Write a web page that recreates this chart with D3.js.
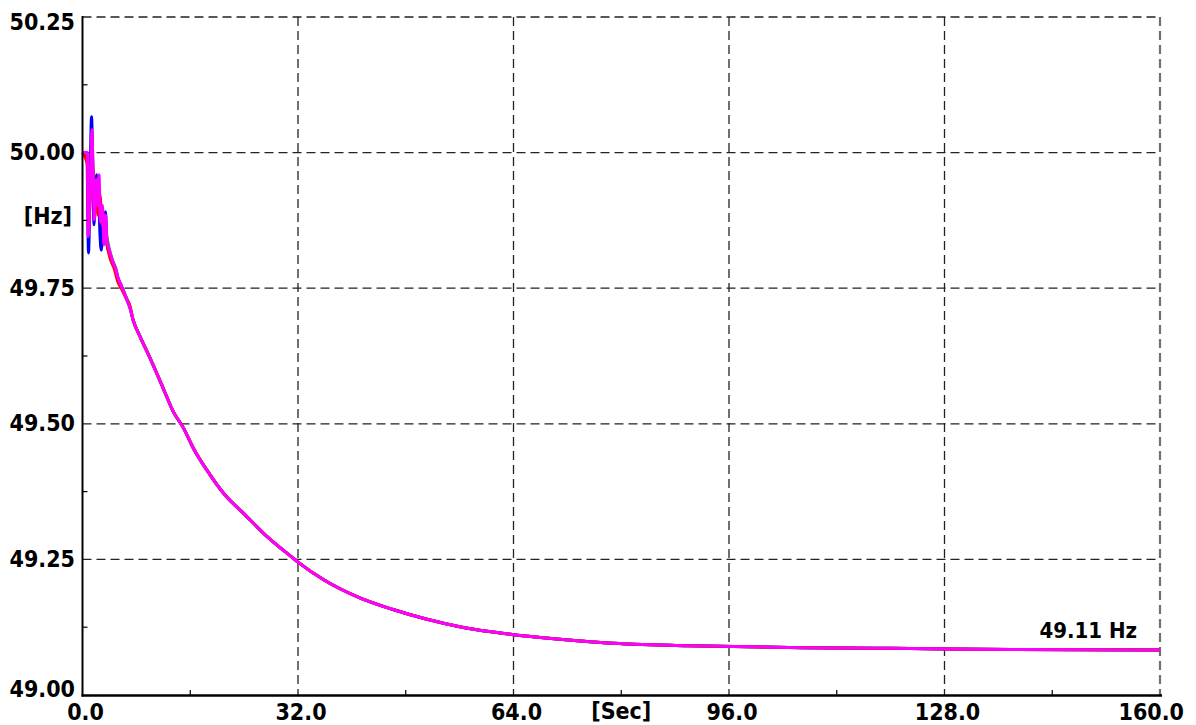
<!DOCTYPE html>
<html lang="en">
<head>
  <meta charset="UTF-8">
  <title>Frequency [Hz] vs time [Sec]</title>
  <script src="https://d3js.org/d3.v7.min.js"></script>
  <style>
    html, body {
      margin: 0;
      padding: 0;
      background: #fff;
    }
    svg text {
      font-family: "DejaVu Sans Condensed", "DejaVu Sans", sans-serif;
      font-stretch: condensed;
      font-weight: bold;
      font-size: 23px;
      fill: #000;
    }
    .grid {
      stroke: #222;
      stroke-width: 1.3;
      stroke-dasharray: 9,5;
      fill: none;
    }
    .series {
      fill: none;
      stroke-width: 3;
      stroke-linejoin: round;
    }
  </style>
</head>
<body>
  <svg id="chart" width="1196" height="725"></svg>

  <script>
    // axis ticks
    const xTicks = [0, 32, 64, 96, 128, 160];
    const xMinor = [16, 48, 80, 112, 144];
    const yTicks = [49.00, 49.25, 49.50, 49.75, 50.00, 50.25];
    const yMinor = [49.125, 49.375, 49.625, 49.875, 50.125];

    // early, noisy part of each measurement (seconds, Hz)
    const blueT  = [0, 0.67, 0.89, 1.11, 1.34, 1.49, 1.71, 2.08, 2.38, 2.60, 2.79, 3.04, 3.42, 3.64, 4.08, 4.53, 4.98, 5.27, 5.72, 6.16, 6.61, 7.06];
    const blueF  = [50.00, 49.986, 49.815, 49.931, 50.066, 50.005, 49.867, 49.959, 49.931, 49.848, 49.820, 49.867, 49.891, 49.830, 49.811, 49.798, 49.784, 49.769, 49.756, 49.743, 49.728, 49.713];

    const greenT = [0, 0.74, 0.97, 1.19, 1.41, 1.71, 2.08, 2.45, 2.75, 3.19, 3.64, 4.08, 4.68, 5.27, 5.87, 6.46, 7.06];
    const greenF = [50.00, 49.986, 49.931, 49.959, 49.986, 49.931, 49.950, 49.913, 49.885, 49.867, 49.843, 49.817, 49.793, 49.769, 49.750, 49.734, 49.715];

    const redT   = [0, 0.74, 0.89, 1.19, 1.41, 1.71, 2.00, 2.30, 2.60, 2.90, 3.27, 3.56, 4.08, 4.68, 5.27, 5.87, 6.46, 7.06];
    const redF   = [50.00, 49.977, 49.857, 49.940, 50.005, 49.913, 49.940, 49.885, 49.922, 49.867, 49.876, 49.839, 49.806, 49.787, 49.761, 49.747, 49.732, 49.717];

    const magT   = [0, 0.74, 0.82, 1.11, 1.41, 1.56, 1.78, 2.00, 2.23, 2.45, 2.67, 2.97, 3.19, 3.42, 3.64, 4.08, 4.53, 4.98, 5.27, 5.72, 6.16, 6.61, 7.06];
    const magF   = [50.00, 50.00, 49.845, 49.913, 50.042, 49.959, 49.876, 49.950, 49.903, 49.959, 49.872, 49.903, 49.830, 49.885, 49.839, 49.817, 49.798, 49.784, 49.769, 49.756, 49.743, 49.728, 49.713];

    // common decay after ~7 s (all traces overlap)
    const tailT = [7.5, 8.5, 10, 12, 13.5, 15, 16.5, 18.5, 21, 24, 27.5, 31, 32, 36, 41, 46, 51, 56, 61, 64, 68, 78, 90, 107, 120, 138, 160];
    const tailF = [49.692, 49.662, 49.622, 49.565, 49.522, 49.492, 49.454, 49.414, 49.371, 49.334, 49.291, 49.255, 49.245, 49.211, 49.180, 49.158, 49.140, 49.126, 49.116, 49.111, 49.106, 49.096, 49.091, 49.087, 49.086, 49.084, 49.083];

    const seriesColors = ["#0000ff", "#00b000", "#ff0000", "#ff00ff"];

    const svg = d3.select("#chart");

    const x = d3.scaleLinear().domain([0, 160]).range([82.5, 1160]);
    const y = d3.scaleLinear().domain([49, 50.25]).range([695, 17]);

    // grid lines
    const gridG = svg.append("g");
    gridG.selectAll(".hgrid")
      .data(yTicks.filter(v => v > 49))
      .enter().append("line")
      .attr("class", "grid")
      .attr("x1", x(0)).attr("x2", x(160))
      .attr("y1", d => y(d)).attr("y2", d => y(d));

    gridG.selectAll(".vgrid")
      .data(xTicks.filter(v => v > 0))
      .enter().append("line")
      .attr("class", "grid")
      .attr("x1", d => x(d)).attr("x2", d => x(d))
      .attr("y1", y(50.25)).attr("y2", y(49))
      .style("stroke", d => d === 160 ? "#707070" : null)
      .style("stroke-width", d => d === 160 ? 2.2 : null);

    // traces
    const line = d3.line()
      .curve(d3.curveMonotoneX)
      .x(d => x(d[0]))
      .y(d => y(d[1]));

    const early = [
      [blueT, blueF],
      [greenT, greenF],
      [redT, redF],
      [magT, magF]
    ];

    const lineG = svg.append("g");
    early.forEach(([ts, fs], i) => {
      const pts = ts.map((t, j) => [t, fs[j]]).concat(tailT.map((t, j) => [t, tailF[j]]));
      lineG.append("path")
        .attr("class", "series")
        .attr("stroke", seriesColors[i])
        .attr("d", line(pts));
    });

    // axes
    svg.append("line")
      .attr("x1", x(0)).attr("x2", x(0))
      .attr("y1", y(50.25) - 1).attr("y2", y(49) + 1.5)
      .attr("stroke", "#000").attr("stroke-width", 2);
    svg.append("line")
      .attr("x1", x(0) - 1).attr("x2", x(160) + 2)
      .attr("y1", y(49) + 0.5).attr("y2", y(49) + 0.5)
      .attr("stroke", "#000").attr("stroke-width", 2.6);

    svg.selectAll(".yminor")
      .data(yMinor)
      .enter().append("line")
      .attr("x1", x(0)).attr("x2", x(0) + 5)
      .attr("y1", d => y(d)).attr("y2", d => y(d))
      .attr("stroke", "#000").attr("stroke-width", 1.2);

    svg.selectAll(".xminor")
      .data(xMinor)
      .enter().append("line")
      .attr("x1", d => x(d)).attr("x2", d => x(d))
      .attr("y1", y(49)).attr("y2", y(49) - 5)
      .attr("stroke", "#000").attr("stroke-width", 1.2);

    // tick labels
    svg.selectAll(".ylab")
      .data(yTicks)
      .enter().append("text")
      .attr("text-anchor", "end")
      .attr("x", 75)
      .attr("y", d => {
        if (d === 50.25) return 30;
        if (d === 49) return 697;
        return y(d) + 7.5;
      })
      .text(d => d.toFixed(2));

    svg.selectAll(".xlab")
      .data(xTicks)
      .enter().append("text")
      .attr("text-anchor", d => d === 160 ? "end" : "middle")
      .attr("x", d => d === 160 ? 1184 : x(d) + 3)
      .attr("y", 720)
      .text(d => d.toFixed(1));

    // unit labels
    svg.append("text")
      .attr("text-anchor", "end")
      .attr("x", 72).attr("y", 224)
      .text("[Hz]");

    svg.append("text")
      .attr("text-anchor", "middle")
      .attr("x", x(80)).attr("y", 719)
      .text("[Sec]");

    svg.append("text")
      .attr("text-anchor", "end")
      .attr("x", 1137).attr("y", 638)
      .style("font-size", "22px")
      .text("49.11 Hz");
  </script>
</body>
</html>
